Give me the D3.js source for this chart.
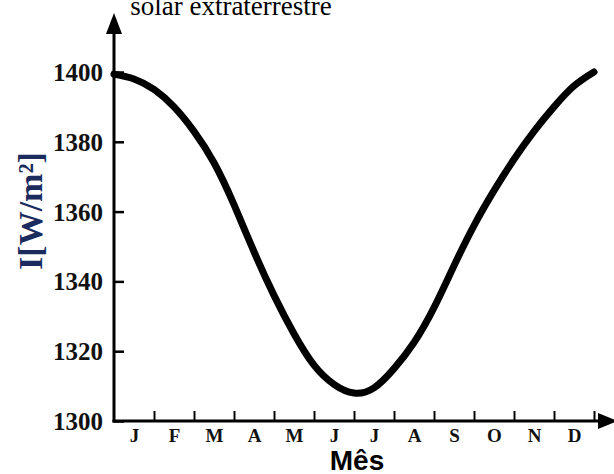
<!DOCTYPE html>
<html>
<head>
<meta charset="utf-8">
<script src="https://cdn.jsdelivr.net/npm/d3@7"></script>
<style>
  html, body { margin: 0; padding: 0; background: #fff; }
  svg { display: block; }
</style>
</head>
<body>
<svg id="chart" width="614" height="474"></svg>
<script>
// Data
const monthLabels = ["J","F","M","A","M","J","J","A","S","O","N","D"];
const monthPos = [0, 0.5, 1, 1.5, 2, 2.5, 3, 3.5, 4, 4.5, 5, 5.5, 6, 6.5, 7, 7.5, 8, 8.5, 9, 9.5, 10, 10.5, 11, 11.5, 12];
const irradiance = [1399.4, 1398.0, 1395.0, 1390.0, 1383.0, 1374.0, 1362.0, 1348.5, 1336.0, 1325.0, 1316.0, 1310.5, 1308.0,
                    1309.5, 1315.0, 1322.5, 1332.5, 1344.5, 1356.0, 1366.0, 1375.0, 1383.0, 1390.0, 1396.0, 1400.0];
const yTicks = [1300, 1320, 1340, 1360, 1380, 1400];
const xTicks = [1,2,3,4,5,6,7,8,9,10,11,12];
const titleText = "solar extraterrestre";
const yLabel = "I[W/m²]";
const xLabel = "Mês";

const svg = d3.select("#chart");
const x = d3.scaleLinear().domain([0, 12]).range([114, 594]);
const y = d3.scaleLinear().domain([1300, 1400]).range([421, 72]);
const serif = "'Liberation Serif', 'Times New Roman', serif";

// title (partially cut at top, as in the reference)
svg.append("text")
  .attr("x", 231).attr("y", 15)
  .attr("text-anchor", "middle")
  .style("font-family", serif)
  .style("font-size", "27px")
  .attr("fill", "#000")
  .text(titleText);

// Y axis ticks + labels
const yAxis = d3.axisLeft(y).tickValues(yTicks).tickSizeInner(-10).tickSizeOuter(0).tickPadding(11).tickFormat(d3.format("d"));
const gy = svg.append("g").attr("transform", `translate(${x(0)},0)`).call(yAxis);
gy.select(".domain").remove();
gy.selectAll(".tick line").attr("stroke", "#000").attr("stroke-width", 2.5);
gy.selectAll(".tick text")
  .style("font-family", serif).style("font-size", "25px").style("font-weight", "bold")
  .attr("fill", "#111").attr("dy", "0.34em");

// X axis tick marks (pointing up)
const xAxis = d3.axisBottom(x).tickValues(xTicks).tickSizeInner(-10).tickSizeOuter(0).tickFormat("");
const gx = svg.append("g").attr("transform", `translate(0,${y(1300)})`).call(xAxis);
gx.select(".domain").remove();
gx.selectAll(".tick line").attr("stroke", "#000").attr("stroke-width", 2);

// Month labels (centered in each month)
const xLab = d3.axisBottom(x).tickValues(monthLabels.map((m, i) => i + 0.5)).tickSize(0).tickPadding(8)
  .tickFormat(v => monthLabels[Math.floor(v)]);
const gl = svg.append("g").attr("transform", `translate(0,${y(1300)})`).call(xLab);
gl.select(".domain").remove();
gl.selectAll(".tick text")
  .style("font-family", serif).style("font-size", "19px").style("font-weight", "bold")
  .attr("fill", "#111");

// Axis lines with arrows
const y0 = y(1300), x0 = x(0);
svg.append("line").attr("x1", x0).attr("y1", y0 + 1.5).attr("x2", x0).attr("y2", 26)
  .attr("stroke", "#000").attr("stroke-width", 3);
svg.append("path").attr("d", `M${x0},13 L${x0 - 8},34 L${x0 + 8},34 Z`).attr("fill", "#000");
svg.append("line").attr("x1", x0 - 1.5).attr("y1", y0).attr("x2", 604).attr("y2", y0)
  .attr("stroke", "#000").attr("stroke-width", 3);
svg.append("path").attr("d", `M618,${y0} L598,${y0 - 8} L598,${y0 + 8} Z`).attr("fill", "#000");

// Curve
const lineGen = d3.line().x(d => x(d[0])).y(d => y(d[1])).curve(d3.curveNatural);
svg.append("path")
  .datum(monthPos.map((m, i) => [m, irradiance[i]]))
  .attr("d", lineGen)
  .attr("fill", "none").attr("stroke", "#000").attr("stroke-width", 7)
  .attr("stroke-linecap", "round").attr("stroke-linejoin", "round");

// Y label
svg.append("text")
  .attr("transform", `translate(42,211) rotate(-90)`)
  .attr("text-anchor", "middle")
  .style("font-family", serif).style("font-size", "34px").style("font-weight", "bold")
  .attr("fill", "#1b2b5e")
  .text(yLabel);

// X label
svg.append("text")
  .attr("x", 357).attr("y", 470)
  .attr("text-anchor", "middle")
  .style("font-family", "'Liberation Sans', Arial, sans-serif").style("font-size", "28px").style("font-weight", "bold")
  .attr("fill", "#000")
  .text(xLabel);
</script>
</body>
</html>
